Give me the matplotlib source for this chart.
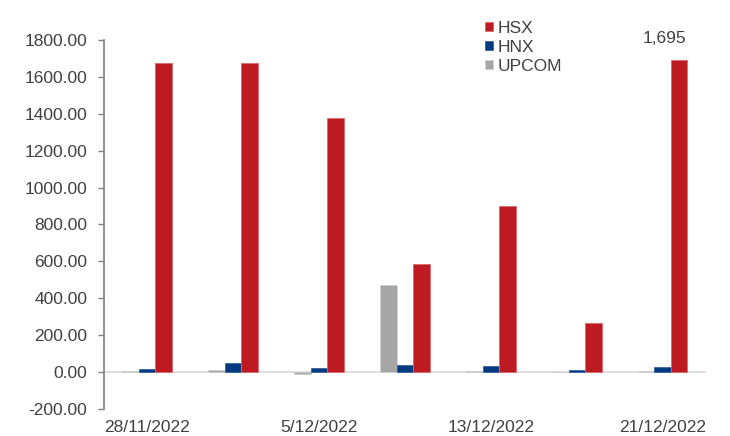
import matplotlib
matplotlib.use("Agg")
import matplotlib.pyplot as plt
import numpy as np

plt.rcParams['font.family'] = ['Liberation Sans', 'DejaVu Sans']

dates = ["28/11/2022", "1/12/2022", "5/12/2022", "8/12/2022",
         "13/12/2022", "16/12/2022", "21/12/2022"]
hsx = [1679, 1674, 1379, 585, 898, 264, 1695]
hnx = [15, 49, 22, 35, 33, 11, 27]
upcom = [3, 11, -9, 472, 2, 1, 2]

c_hsx = "#BD1A22"
c_hnx = "#003A7F"
c_upcom = "#A6A6A6"
txt = "#404040"
fs = 12.5

fig = plt.figure(figsize=(7.30, 4.36), dpi=100)
ax = fig.add_axes([0.1425, 0.0626, 0.8242, 0.845])

x = np.arange(len(dates))
w = 0.192
ax.bar(x - w, upcom, w, color=c_upcom, edgecolor="#d0d0d0", linewidth=0.6, label="UPCOM", zorder=3)
ax.bar(x, hnx, w, color=c_hnx, edgecolor="#3a64a0", linewidth=0.6, label="HNX", zorder=3)
ax.bar(x + w, hsx, w, color=c_hsx, edgecolor="#d86a70", linewidth=0.6, label="HSX", zorder=3)

# value label on the latest HSX bar
ax.annotate(f"{hsx[-1]:,}", xy=(x[-1] + w, hsx[-1]), xytext=(-11, 10),
            textcoords="offset points", ha="center", va="bottom",
            fontsize=fs, color=txt)

ax.set_xlim(-0.5, len(dates) - 0.5)
ax.set_ylim(-200, 1800)
ax.set_yticks(np.arange(-200, 1801, 200))
ax.yaxis.set_major_formatter(matplotlib.ticker.FuncFormatter(lambda v, p: f"{v:.2f}"))

ax.axhline(0, color="#d9d9d9", linewidth=1.2, zorder=2)

ax.set_xticks(x[::2])
ax.set_xticklabels(dates[::2])
ax.tick_params(axis="x", length=0, pad=8, labelsize=fs, labelcolor=txt)
ax.tick_params(axis="y", length=4, width=1, color="#808080", pad=8,
               labelsize=fs, labelcolor=txt)

for s in ["top", "right", "bottom"]:
    ax.spines[s].set_visible(False)
ax.spines["left"].set_color("#808080")
ax.spines["left"].set_linewidth(1.2)

handles, labels = ax.get_legend_handles_labels()
order = [2, 1, 0]
leg = fig.legend([handles[i] for i in order], [labels[i] for i in order],
                 loc="upper left", bbox_to_anchor=(0.6645, 0.952),
                 frameon=False, fontsize=fs, handlelength=0.46, handleheight=0.46,
                 handletextpad=0.25, labelspacing=0.22, borderaxespad=0, borderpad=0)
for t in leg.get_texts():
    t.set_color(txt)

fig.savefig("out.png", dpi=100)
